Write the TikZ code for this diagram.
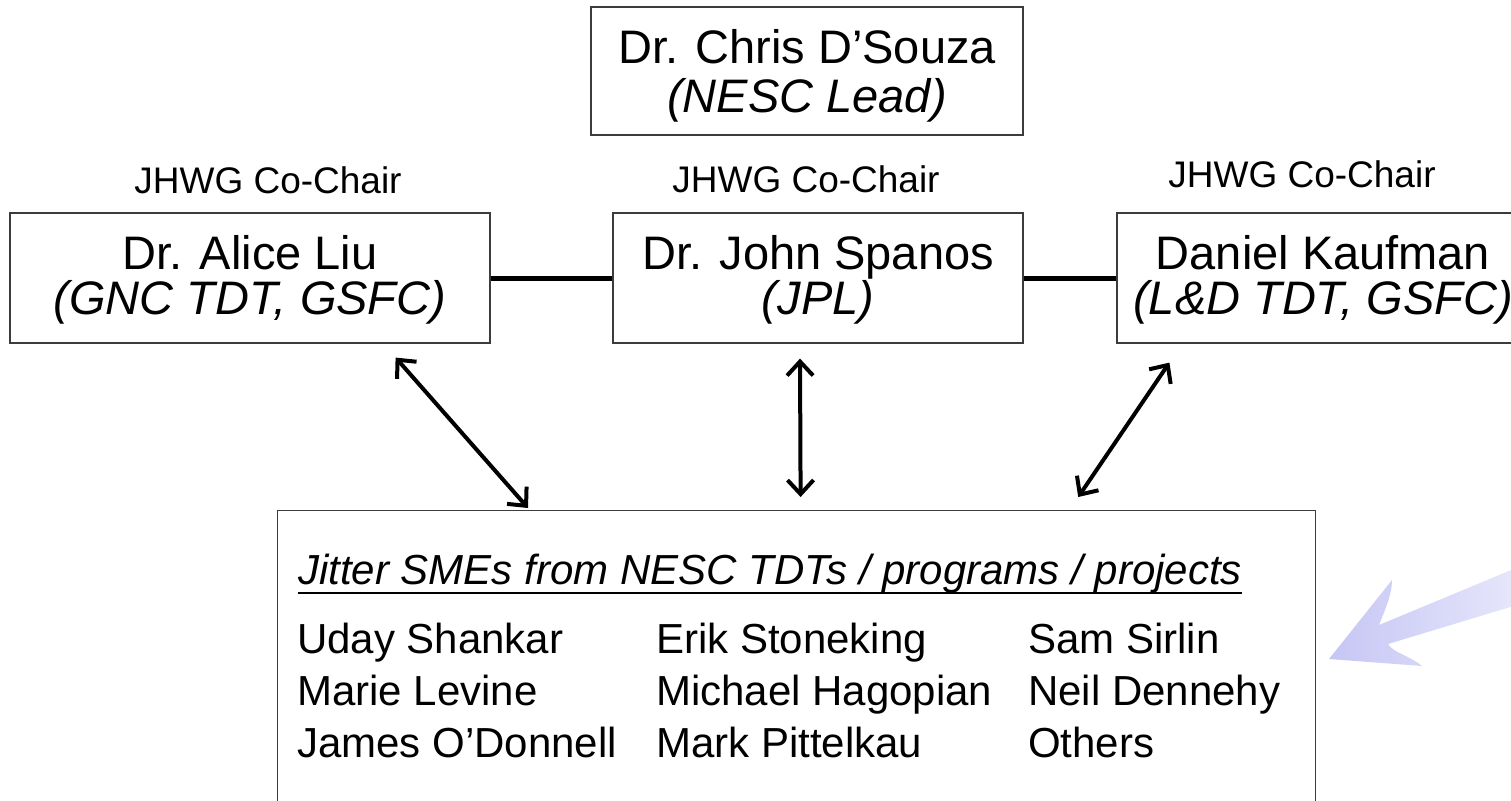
\documentclass[tikz,border=0pt]{standalone}
\usepackage{fontspec}
\setmainfont{Liberation Sans}
\usetikzlibrary{arrows.meta,calc}
\definecolor{boxline}{RGB}{60,60,60}
\definecolor{arrA}{RGB}{198,198,245}
\definecolor{arrB}{RGB}{234,234,252}
\begin{document}
\begin{tikzpicture}[x=1pt,y=-1pt,
  person/.style={draw=boxline,line width=1.2pt,align=center,inner sep=0pt,font=\fontsize{47}{45}\selectfont},
  chair/.style={inner sep=0pt,anchor=base,font=\fontsize{37}{40}\selectfont},
  member/.style={inner sep=0pt,anchor=base west,font=\fontsize{42}{44}\selectfont},
  link/.style={line width=5pt},
  dblarrow/.style={line width=4pt,{Straight Barb[length=14pt,width=26pt]}-{Straight Barb[length=14pt,width=26pt]}}
]
\useasboundingbox (0,0) rectangle (1511,800);
\clip (0,0) rectangle (1511,800);
\fill[white] (0,0) rectangle (1511,800);

% boxes
\node[person,font=\fontsize{47}{49}\selectfont,minimum width=432pt,minimum height=128pt] (lead) at (807,71) {\rule{0pt}{43pt}Dr. Chris D’Souza\\\textit{(NESC Lead)}};
\node[person,minimum width=480pt,minimum height=130pt] (liu) at (250,278) {\rule{0pt}{38pt}Dr. Alice Liu\\\textit{(GNC TDT, GSFC)}};
\node[person,minimum width=410pt,minimum height=130pt] (spanos) at (818,278) {\rule{0pt}{38pt}Dr. John Spanos\\\textit{(JPL)}};
\node[person,minimum width=412pt,minimum height=130pt] (kaufman) at (1323,278) {\rule{0pt}{38pt}Daniel Kaufman\\\textit{(L\&D TDT, GSFC)}};

% co-chair labels
\node[chair] (c1) at (268,193) {JHWG Co-Chair};
\node[chair] (c2) at (806,192) {JHWG Co-Chair};
\node[chair] (c3) at (1302,187) {JHWG Co-Chair};

% links
\draw[link] (liu.east) -- (spanos.west);
\draw[link] (spanos.east) -- (kaufman.west);

% SME box
\node[draw=boxline,line width=1.2pt,minimum width=1038pt,minimum height=330pt,anchor=north west,inner sep=0pt] (smes) at (277,510) {};
\node[member,font=\fontsize{42}{44}\selectfont\itshape] (title) at (298,584) {Jitter SMEs from NESC TDTs / programs / projects};
\draw[line width=2.5pt] ($(title.base west)+(0,9)$) -- ($(title.base east)+(0,9)$);

\node[member] (m11) at (297,653) {Uday Shankar};
\node[member] (m21) at (297,705) {Marie Levine};
\node[member] (m31) at (297,757) {James O’Donnell};
\node[member] (m12) at (656,653) {Erik Stoneking};
\node[member] (m22) at (656,705) {Michael Hagopian};
\node[member] (m32) at (656,757) {Mark Pittelkau};
\node[member] (m13) at (1028,653) {Sam Sirlin};
\node[member] (m23) at (1028,705) {Neil Dennehy};
\node[member] (m33) at (1028,757) {Others};

% arrows
\draw[dblarrow] ($(liu.south east)+(-95,14)$) -- ($(smes.north west)+(251,-2)$);
\draw[dblarrow] ($(spanos.south)+(-18,15)$) -- ($(smes.north)+(4,-13)$);
\draw[dblarrow] ($(kaufman.south west)+(53,19)$) -- ($(smes.north east)+(-238,-13)$);

% blue block arrow
\shade[left color=arrA,right color=arrB]
  (1540,558) -- (1379,625)
  .. controls (1384,612) and (1392,595) .. (1392,580)
  -- (1329,659) -- (1422,666)
  .. controls (1412,657) and (1392,652) .. (1388,644)
  -- (1540,598) -- cycle;
\end{tikzpicture}
\end{document}
